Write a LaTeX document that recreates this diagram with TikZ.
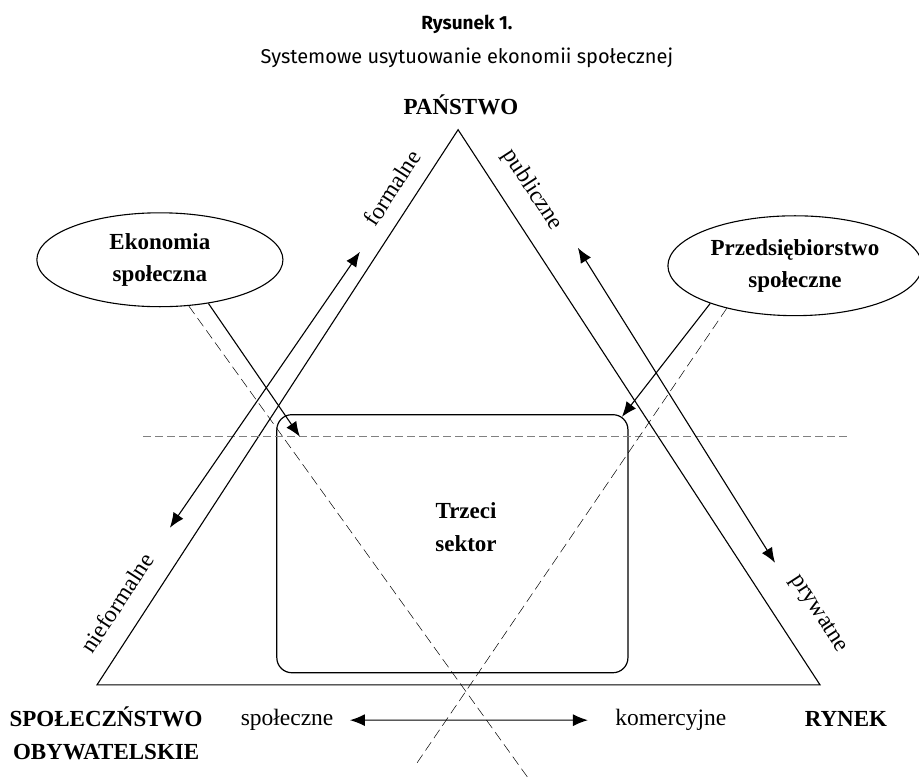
\documentclass[tikz,border=0pt]{standalone}
\usepackage{fontspec}
\setmainfont{Liberation Serif}
\newfontfamily\figfont{Fira Sans}
\usetikzlibrary{arrows.meta,shapes.geometric}

\begin{document}
\begin{tikzpicture}[
        >={Latex[length=15pt,width=12pt]},
        side/.style={line width=1.1pt},
        bigword/.style={font=\fontsize{23}{33}\selectfont\bfseries, align=center},
        smallword/.style={font=\fontsize{23.5}{28}\selectfont},
        oval/.style={ellipse, draw, line width=1.1pt, inner sep=0pt,
            font=\fontsize{23}{32}\selectfont\bfseries, align=center},
        sectorbox/.style={draw, rounded corners=15pt, line width=1.2pt},
        axis/.style={line width=0.5pt, dash pattern=on 10pt off 5pt},
        level/.style={gray, line width=0.8pt, dash pattern=on 8pt off 4pt}
    ]
        % fix the page size
        \useasboundingbox (0,0) rectangle (32.30,27.55);
        % title on top
        \node[anchor=base, font=\figfont\fontsize{19}{23}\selectfont\bfseries] (fig) at (16.41,26.50) {Rysunek 1.};
        \node[anchor=base, font=\figfont\fontsize{20}{24}\selectfont] (figtitle) at (16.41,25.31) {Systemowe usytuowanie ekonomii społecznej};
        % the triangle
        \coordinate (apex) at (16.10,22.99);
        \coordinate (cornerL) at (3.41,3.48);
        \coordinate (cornerR) at (28.82,3.48);
        \draw[side] (cornerL) -- (apex) -- (cornerR) -- cycle;
        % corner labels
        \node[bigword, anchor=base] (panstwo) at (16.20,23.51) {PAŃSTWO};
        \node[bigword] (obyw) at (3.73,1.79) {SPOŁECZŃSTWO\\OBYWATELSKIE};
        \node[bigword, anchor=base] (rynek) at (29.73,2.00) {RYNEK};
        % the two ovals
        \node[oval, minimum width=8.65cm, minimum height=3.30cm] (ekon) at (5.62,18.42) {Ekonomia\\społeczna};
        \node[oval, minimum width=8.93cm, minimum height=3.51cm] (pred) at (27.94,18.21) {Przedsiębiorstwo\\społeczne};
        % third sector box in the middle
        \node[sectorbox, minimum width=12.34cm, minimum height=9.07cm] (trzeci) at (15.90,8.44) {};
        \node[bigword] (trzecilbl) at (16.38,9.03) {Trzeci\\sektor};
        % dashed lines
        \draw[level] (5.03,12.20) -- (29.77,12.20);
        \coordinate (endE) at (18.63,0.11);
        \coordinate (endP) at (14.66,0.74);
        \draw[axis] (ekon.-58) -- (endE);
        \draw[axis] (pred.212) -- (endP);
        % arrows from the ovals
        \coordinate (tipE) at (10.54,12.20);
        \coordinate (tipP) at (21.86,12.90);
        \draw[side, ->] (ekon.-42) -- (tipE);
        \draw[side, ->] (pred.204) -- (tipP);
        % left side arrow
        \coordinate (fTop) at (12.65,18.70);
        \coordinate (fBot) at (5.97,9.00);
        \draw[side, <->] (fBot) -- (fTop);
        % right side arrow
        \coordinate (pTop) at (20.31,18.84);
        \coordinate (pBot) at (27.24,7.77);
        \draw[side, <->] (pTop) -- (pBot);
        % labels along the sides
        \node[smallword, rotate=57] (formalne) at (13.78,20.95) {formalne};
        \node[smallword, rotate=-57] (publiczne) at (18.70,20.88) {publiczne};
        \node[smallword, rotate=57] (nieformalne) at (4.11,6.36) {nieformalne};
        \node[smallword, rotate=-57] (prywatne) at (28.75,5.97) {prywatne};
        % bottom arrow
        \node[smallword, anchor=base] (spoleczne) at (10.09,2.04) {społeczne};
        \node[smallword, anchor=base] (komercyjne) at (23.58,2.04) {komercyjne};
        \draw[side, <->, shorten <=13pt, shorten >=24pt] (spoleczne) -- (komercyjne);
\end{tikzpicture}
\end{document}
